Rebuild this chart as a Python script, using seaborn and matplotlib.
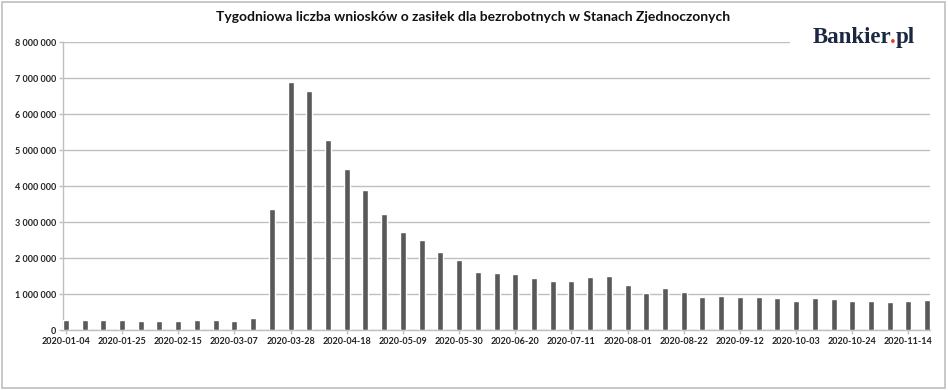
import matplotlib
matplotlib.use("Agg")
import matplotlib.pyplot as plt
import matplotlib.patches as mpatches
import seaborn as sns
import pandas as pd
import numpy as np

# tygodnie (sobota konczaca tydzien)
tygodnie = pd.date_range("2020-01-04", "2020-11-21", freq="7D").strftime("%Y-%m-%d").tolist()

# liczba wnioskow
wnioski = [
    265000, 265000, 265000, 265000, 250000, 250000, 260000, 265000, 265000, 262000,
    330000, 3350000, 6900000, 6650000, 5280000, 4480000, 3900000, 3220000, 2720000, 2490000,
    2170000, 1940000, 1620000, 1590000, 1550000, 1450000, 1360000, 1360000, 1470000, 1490000,
    1250000, 1030000, 1160000, 1060000, 930000, 940000, 910000, 930000, 900000, 810000,
    900000, 850000, 810000, 810000, 770000, 810000, 830000,
]

tytul = "Tygodniowa liczba wniosków o zasiłek dla bezrobotnych w Stanach Zjednoczonych"

df = pd.DataFrame({"tydzien": tygodnie, "wnioski": wnioski})

sns.set_theme(style="white")
plt.rcParams["font.family"] = ["Lato", "DejaVu Sans"]

fig = plt.figure(figsize=(9.48, 3.9), dpi=100)
ax = fig.add_axes([0.0665, 0.1538, 0.9145, 0.738])

sns.barplot(data=df, x="tydzien", y="wnioski", color="#595959", saturation=1,
            width=0.32, ax=ax, zorder=3)

ax.set_xlim(-0.15, len(tygodnie) - 0.85)
ax.set_ylim(0, 8000000)
ax.set_yticks(np.arange(0, 8000001, 1000000))
ax.set_yticklabels([f"{v:,}".replace(",", " ") for v in range(0, 8000001, 1000000)],
                   fontsize=6.5, fontweight="bold", color="#222222")
pozycje = list(range(0, len(tygodnie), 3))
ax.set_xticks(pozycje)
ax.set_xticklabels([tygodnie[i] for i in pozycje], fontsize=6.5, fontweight="bold", color="#222222")
ax.set_xlabel("")
ax.set_ylabel("")

ax.grid(axis="y", color="#bfbfbf", linewidth=1, zorder=0)
ax.tick_params(axis="both", length=3, width=1, color="#bfbfbf", pad=2, direction="out",
               left=True, bottom=True)
for s in ["top", "right"]:
    ax.spines[s].set_visible(False)
for s in ["left", "bottom"]:
    ax.spines[s].set_color("#bfbfbf")
    ax.spines[s].set_linewidth(1)

fig.text(0.499, 0.956, tytul, ha="center", va="center", fontsize=10, fontweight="bold", color="#111111")

# biale tlo pod logo (zaslania gorna linie siatki)
fig.patches.append(mpatches.Rectangle((0.833, 0.855), 0.15, 0.08, transform=fig.transFigure,
                                      facecolor="white", edgecolor="none", zorder=5))

# logo Bankier.pl - kropka na czerwono; czesci wyrownane do prawej krawedzi zmierzonych napisow
logo = dict(fontsize=16.5, fontweight="bold", family="Liberation Serif", va="baseline", zorder=6)
renderer = fig.canvas.get_renderer()
x0, y0 = 0.8576, 0.889
szer = fig.bbox.width
tmp = fig.text(x0, y0, "Bankier.", ha="left", **logo)
w2 = tmp.get_window_extent(renderer).width / szer
tmp.set_text("Bankier.pl")
w3 = tmp.get_window_extent(renderer).width / szer
tmp.remove()
fig.text(x0, y0, "Bankier", color="#1c2741", ha="left", **logo)
fig.text(x0 + w2, y0, ".", color="#e8431f", ha="right", **logo)
fig.text(x0 + w3, y0, "pl", color="#1c2741", ha="right", **logo)

# ramka wykresu
fig.patches.append(mpatches.Rectangle((0.002, 0.004), 0.995, 0.992, transform=fig.transFigure,
                                      facecolor="none", edgecolor="#bfbfbf", linewidth=1.2, zorder=10))

fig.savefig("out.png", dpi=100)
